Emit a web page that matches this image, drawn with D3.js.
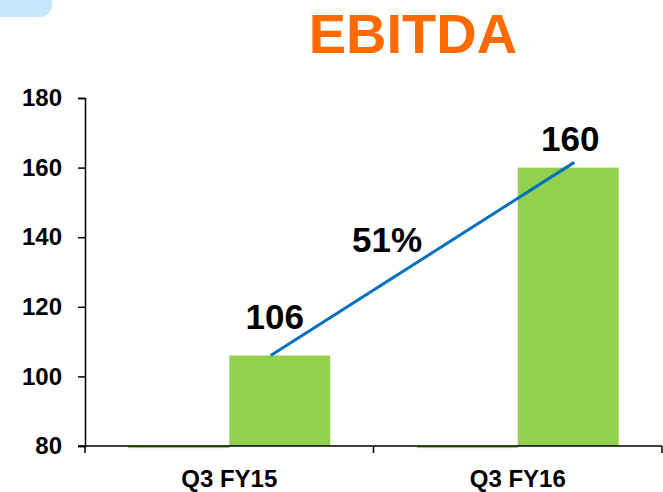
<!DOCTYPE html>
<html>
<head>
<meta charset="utf-8">
<script src="https://cdn.jsdelivr.net/npm/d3@7"></script>
<style>
  body { margin: 0; background: #fff; }
  svg { display: block; font-family: "Liberation Sans", Arial, sans-serif; }
</style>
</head>
<body>
<svg id="chart" width="663" height="492"></svg>
<script>
const categories = ["Q3 FY15", "Q3 FY16"];
const series = ["base", "ebitda"];
const baseValues = [79.4, 79.4];
const ebitdaValues = [106, 160];
const yTicks = [80, 100, 120, 140, 160, 180];
const growthLabel = "51%";
const growthLine = [106, 161.5];

const width = 663
const height = 492
const mLeft = 85, mRight = 662, mTop = 98, mBottom = 446
const labelGap = [27, 17]

const svg = d3.select("#chart")

// little blue tab in the corner
svg.append("rect")
    .attr("x", -20).attr("y", -20)
    .attr("width", 72).attr("height", 37)
    .attr("rx", 12)
    .attr("fill", "#c5e9fb")

svg.append("text")
    .attr("x", 413).attr("y", 53)
    .attr("text-anchor", "middle")
    .attr("font-size", 56)
    .attr("font-weight", "bold")
    .attr("fill", "#ff6a00")
    .text("EBITDA")

const x0 = d3.scaleBand().domain(categories).range([mLeft, mRight])
    .paddingInner(0.3).paddingOuter(0.15)
const x1 = d3.scaleBand().domain(series).range([0, x0.bandwidth()])
const y = d3.scaleLinear().domain([80, 180]).range([mBottom, mTop])

const rows = categories.map((c, i) => ({ cat: c, base: baseValues[i], ebitda: ebitdaValues[i] }))

const groups = svg.selectAll("g.grp")
    .data(rows)
    .enter()
    .append("g")
    .attr("class", "grp")
    .attr("transform", d => "translate(" + x0(d.cat) + ",0)")

groups.selectAll("rect")
    .data(d => series.map(s => ({ key: s, value: d[s] })))
    .enter()
    .append("rect")
    .attr("x", d => x1(d.key))
    .attr("width", x1.bandwidth())
    .attr("y", d => Math.min(y(d.value), y(80)))
    .attr("height", d => Math.abs(y(80) - y(d.value)))
    .attr("fill", "#92d050")

// y axis
const yAxis = svg.append("g")
    .attr("transform", "translate(" + mLeft + ",0)")
    .call(d3.axisLeft(y).tickValues(yTicks).tickSize(7).tickPadding(16))
yAxis.select(".domain").attr("stroke", "#000").attr("stroke-width", 1.5)
yAxis.selectAll(".tick line").attr("stroke", "#000").attr("stroke-width", 1.5)
yAxis.selectAll("text")
    .attr("font-size", 24).attr("font-weight", "bold").attr("fill", "#000")
    .attr("font-family", "Liberation Sans, Arial, sans-serif")

// x axis with ticks at category boundaries
const xEdge = d3.scaleLinear().domain([0, categories.length]).range([mLeft, mRight])
svg.append("line")
    .attr("x1", mLeft - 7).attr("x2", mRight)
    .attr("y1", y(80)).attr("y2", y(80))
    .attr("stroke", "#000").attr("stroke-width", 1.5)
svg.selectAll("line.xtick")
    .data(d3.range(categories.length + 1))
    .enter()
    .append("line")
    .attr("class", "xtick")
    .attr("x1", d => xEdge(d)).attr("x2", d => xEdge(d))
    .attr("y1", y(80)).attr("y2", y(80) + 7)
    .attr("stroke", "#000").attr("stroke-width", 1.5)
svg.selectAll("text.xlab")
    .data(categories)
    .enter()
    .append("text")
    .attr("class", "xlab")
    .attr("x", d => x0(d) + x0.bandwidth() / 2)
    .attr("y", 487)
    .attr("text-anchor", "middle")
    .attr("font-size", 24)
    .attr("font-weight", "bold")
    .text(d => d)

// value labels
svg.selectAll("text.val")
    .data(rows)
    .enter()
    .append("text")
    .attr("class", "val")
    .attr("x", (d, i) => x0(d.cat) + x1("ebitda") + x1.bandwidth() / 2 + (i === 0 ? -5 : 2))
    .attr("y", (d, i) => y(d.ebitda) - labelGap[i])
    .attr("text-anchor", "middle")
    .attr("font-size", 35)
    .attr("font-weight", "bold")
    .text(d => d.ebitda)

// growth line
const lx = c => x0(c) + x1("ebitda") + x1.bandwidth() / 2
svg.append("line")
    .attr("x1", lx(categories[0]) - 9).attr("y1", y(growthLine[0]))
    .attr("x2", lx(categories[1]) + 6).attr("y2", y(growthLine[1]))
    .attr("stroke", "#0070c0").attr("stroke-width", 3)

svg.append("text")
    .attr("x", 387).attr("y", 252)
    .attr("text-anchor", "middle")
    .attr("font-size", 35)
    .attr("font-weight", "bold")
    .text(growthLabel)
</script>
</body>
</html>
